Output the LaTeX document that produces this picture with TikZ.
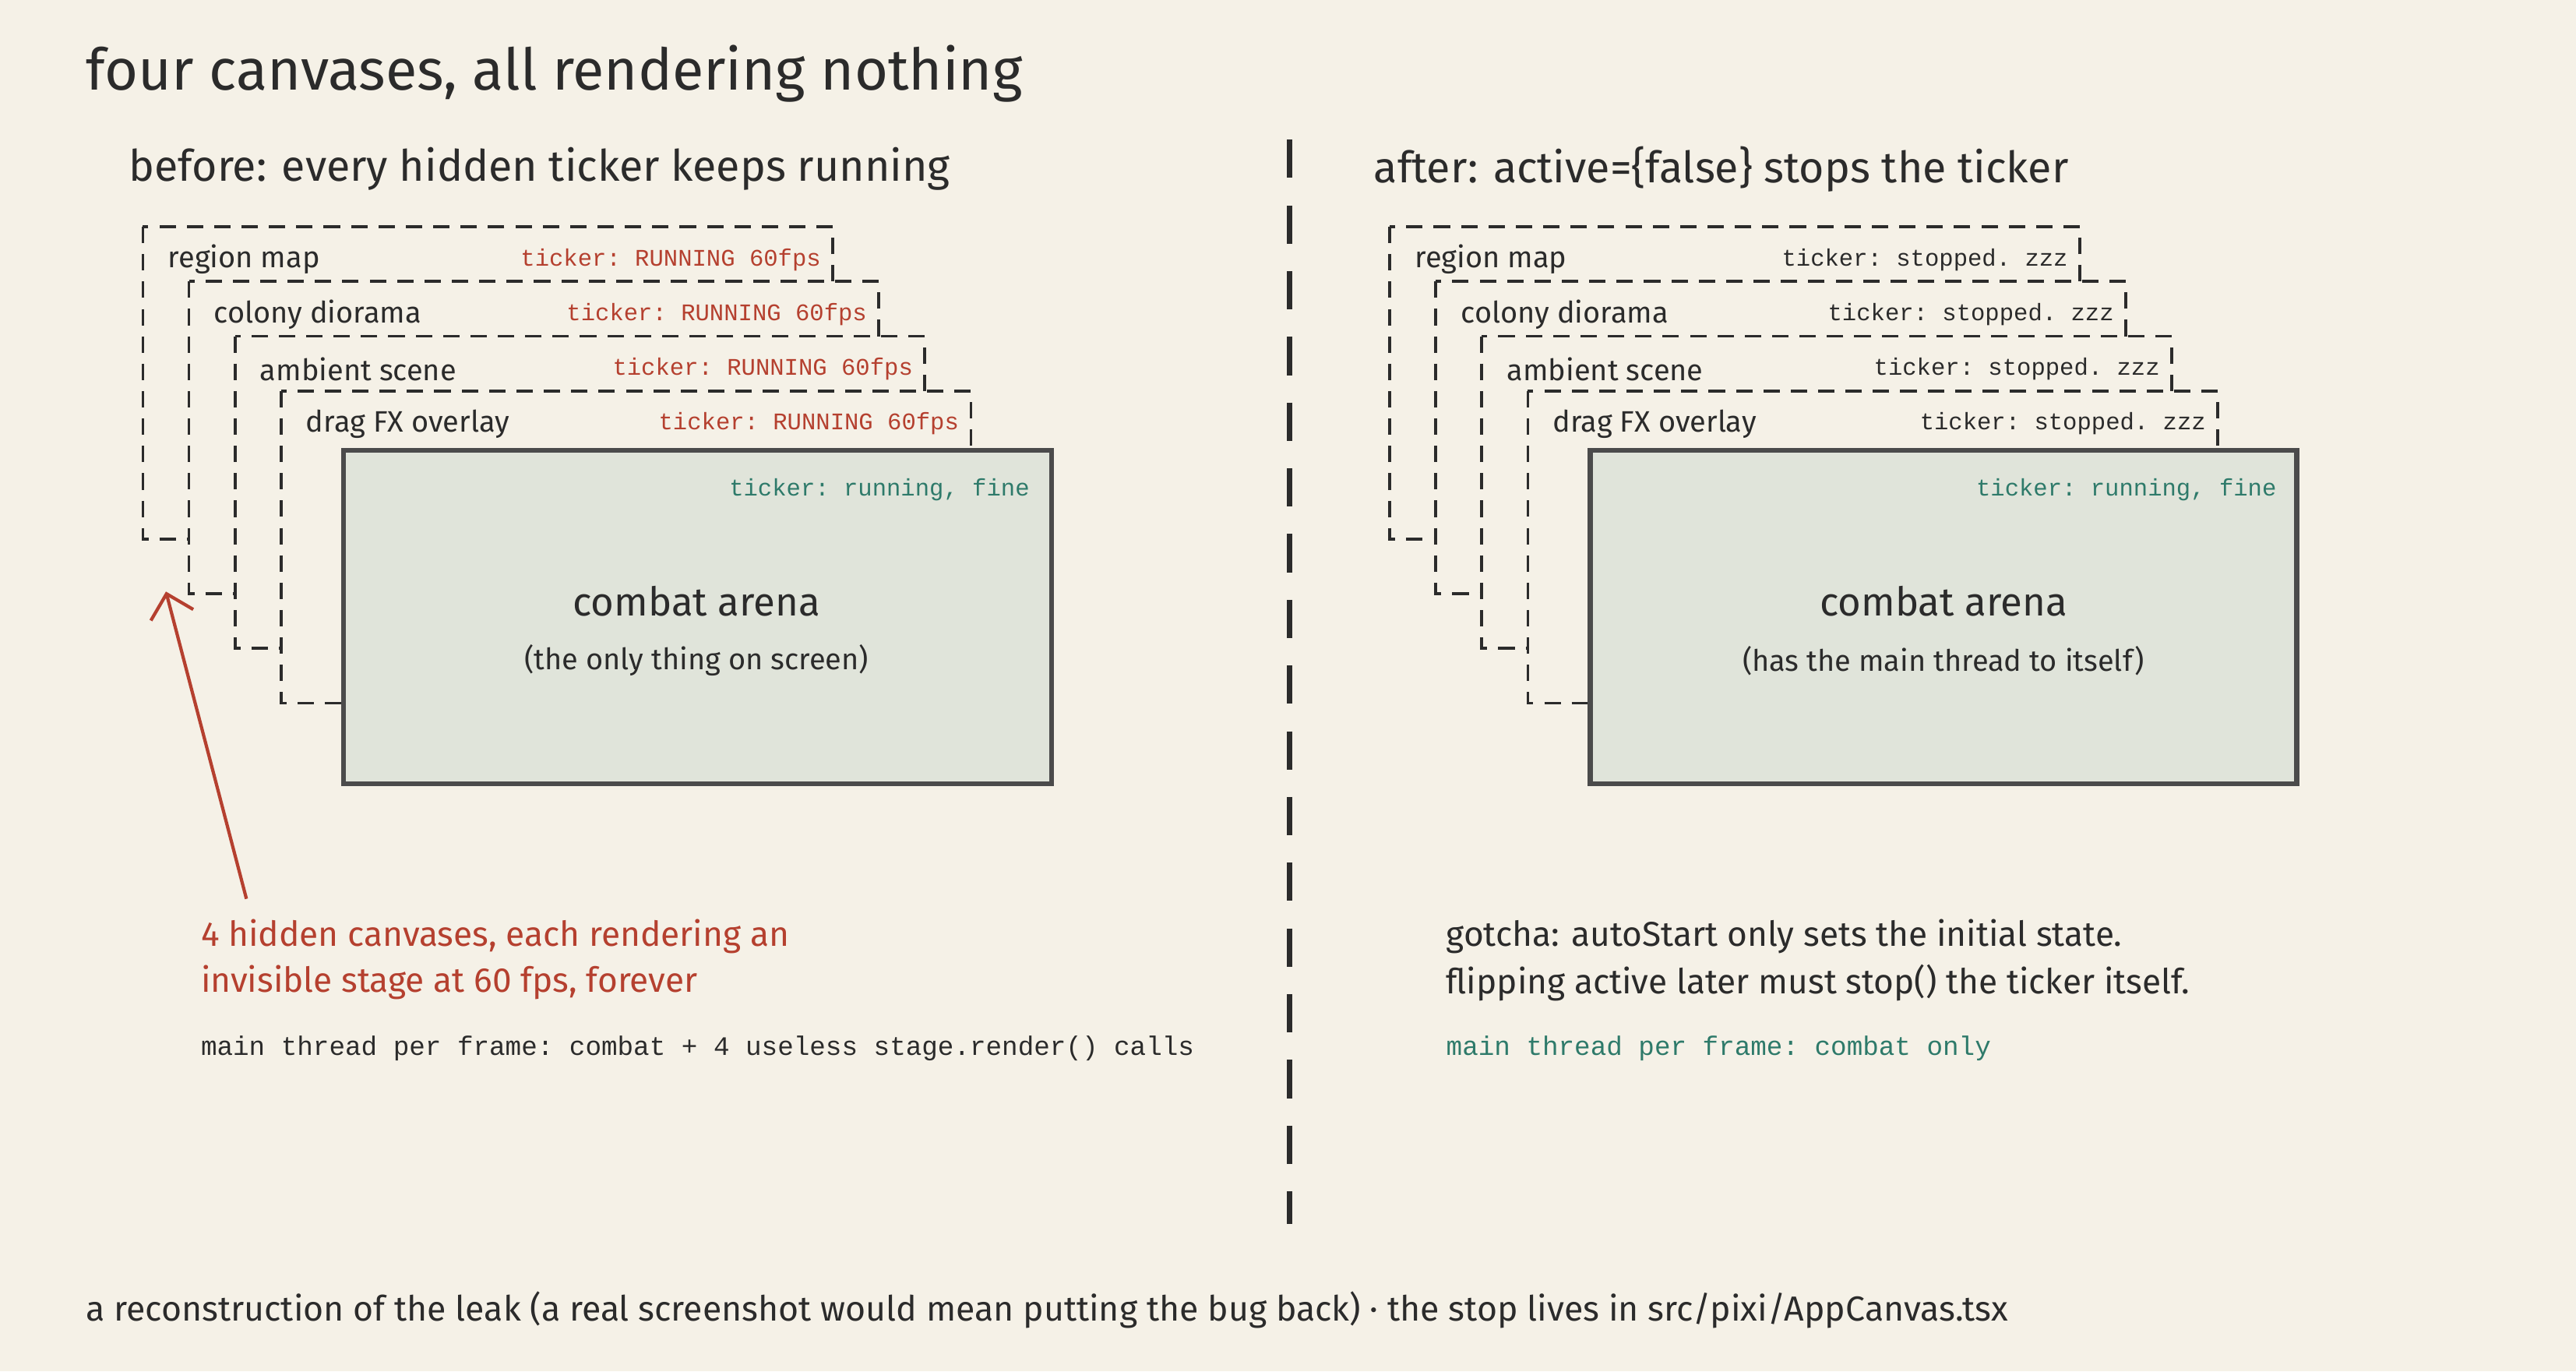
\documentclass[tikz,border=0pt]{standalone}
\usepackage{fontspec}
\usetikzlibrary{arrows.meta}
\setmainfont{Fira Sans}
\setmonofont{Liberation Mono}
\definecolor{bg}{HTML}{F5F1E7}
\definecolor{ink}{HTML}{2B2B2B}
\definecolor{redc}{HTML}{B5402F}
\definecolor{greenc}{HTML}{2E7A6A}
\definecolor{arena}{HTML}{E0E4DA}
\tikzset{
  frm/.style={draw=ink, dashed, dash pattern=on 6pt off 4pt, line width=1.1pt, fill=bg},
  arenabox/.style={draw=ink!85, line width=1.8pt, fill=arena},
  lbl/.style={anchor=west, font=\fontsize{10.8}{12}\selectfont, text=ink, inner sep=0},
  tick/.style={anchor=east, font=\ttfamily\fontsize{8.7}{10}\selectfont, inner sep=0},
  txt/.style={anchor=west, font=\fontsize{12.6}{14}\selectfont, text=ink, inner sep=0},
}
\begin{document}
\begin{tikzpicture}[x=0.02109cm,y=-0.02109cm]
\fill[bg] (0,0) rectangle (1568,834.5);
\useasboundingbox (0,0) rectangle (1568,834.5);
\node[anchor=west, font=\fontsize{21}{24}\selectfont, text=ink, inner sep=0] (title) at (52,45) {four canvases, all rendering nothing};
\node[anchor=west, font=\fontsize{15.8}{18}\selectfont, text=ink, inner sep=0] (hl) at (78,103) {before: every hidden ticker keeps running};
\node[anchor=west, font=\fontsize{15.8}{18}\selectfont, text=ink, inner sep=0] (hr) at (836,103) {after: active=\{false\} stops the ticker};
\draw[ink, line width=1.8pt, dash pattern=on 14pt off 10pt] (785,85) coordinate (d1) -- (785,745) coordinate (d2);
% left panel
\foreach \i/\name/\cap in {0/a/region map,1/b/colony diorama,2/c/ambient scene,3/d/drag FX overlay}{
  \pgfmathsetmacro{\xx}{87+28*\i}
  \pgfmathsetmacro{\yy}{138+33.3*\i}
  \draw[frm] (\xx,\yy) rectangle ++(420,190);
  \node[lbl] (L\name) at (\xx+15,\yy+20) {\cap};
  \node[tick, text=redc] (LT\name) at (\xx+413,\yy+20) {ticker: RUNNING 60fps};
}
\draw[arenabox] (209,274) rectangle (640,477);
\node[tick, text=greenc] (lg) at (627,298) {ticker: running, fine};
\node[font=\fontsize{14.5}{16}\selectfont, text=ink] (la) at (424,366) {combat arena};
\node[font=\fontsize{10.8}{12}\selectfont, text=ink] (ls) at (424,402) {(the only thing on screen)};
% right panel
\foreach \i/\name/\cap in {0/a/region map,1/b/colony diorama,2/c/ambient scene,3/d/drag FX overlay}{
  \pgfmathsetmacro{\xx}{846+28*\i}
  \pgfmathsetmacro{\yy}{138+33.3*\i}
  \draw[frm] (\xx,\yy) rectangle ++(420,190);
  \node[lbl] (R\name) at (\xx+15,\yy+20) {\cap};
  \node[tick, text=ink] (RT\name) at (\xx+413,\yy+20) {ticker: stopped. zzz};
}
\draw[arenabox] (968,274) rectangle (1398,477);
\node[tick, text=greenc] (rg) at (1386,298) {ticker: running, fine};
\node[font=\fontsize{14.5}{16}\selectfont, text=ink] (ra) at (1183,366) {combat arena};
\node[font=\fontsize{10.8}{12}\selectfont, text=ink] (rs) at (1183,402) {(has the main thread to itself)};
% notes
\coordinate (as) at (150,547);
\coordinate (ae) at (101,360);
\draw[redc, line width=1.2pt, -{Straight Barb[length=8pt]}] (as) -- (ae);
\node[txt, text=redc] (n1) at (122,570) {4 hidden canvases, each rendering an};
\node[txt, text=redc] (n2) at (122,598) {invisible stage at 60 fps, forever};
\node[anchor=west, inner sep=0, font=\ttfamily\fontsize{9.75}{12}\selectfont, text=ink] (n3) at (122,638) {main thread per frame: combat + 4 useless stage.render() calls};
\node[txt] (m1) at (880,570) {gotcha: autoStart only sets the initial state.};
\node[txt] (m2) at (880,598) {flipping active later must stop() the ticker itself.};
\node[anchor=west, inner sep=0, font=\ttfamily\fontsize{9.75}{12}\selectfont, text=greenc] (m3) at (880,638) {main thread per frame: combat only};
\node[txt, font=\fontsize{12.7}{14}\selectfont] (foot) at (52,797) {a reconstruction of the leak (a real screenshot would mean putting the bug back) · the stop lives in src/pixi/AppCanvas.tsx};
\end{tikzpicture}
\end{document}
